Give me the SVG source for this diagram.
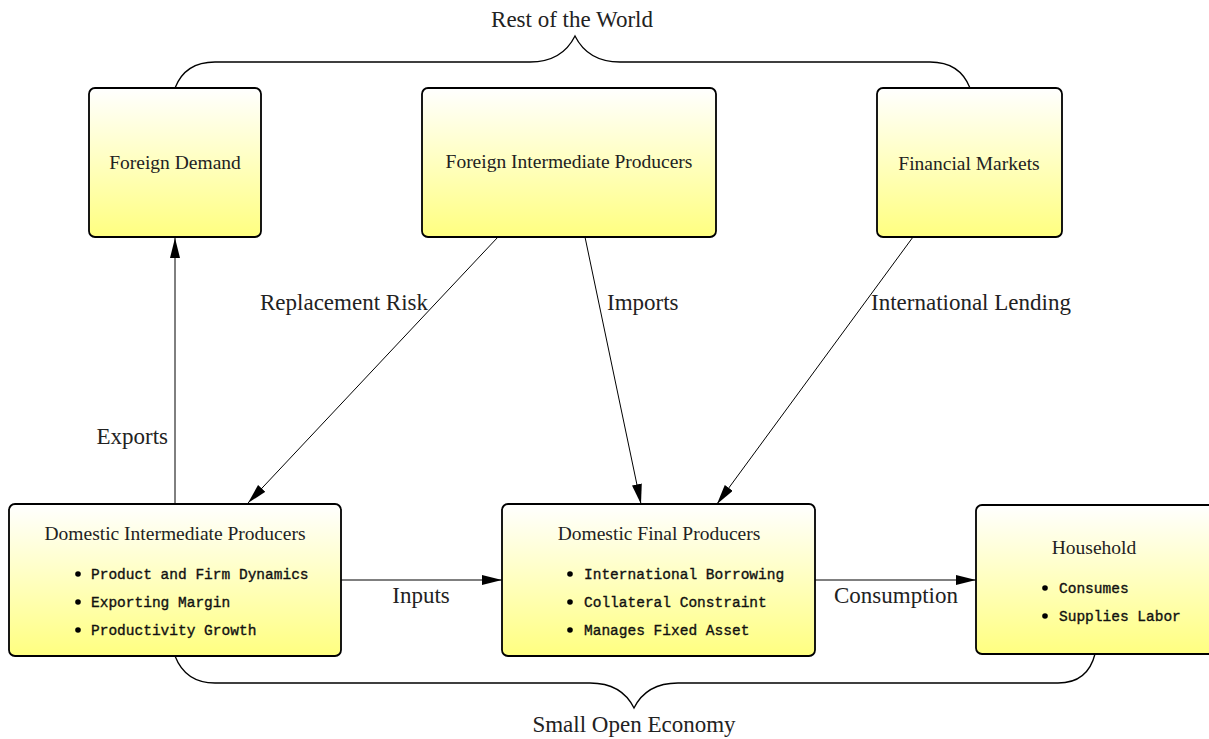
<svg xmlns="http://www.w3.org/2000/svg" width="1209" height="739" viewBox="0 0 1209 739">
<style>
.box{fill:url(#yg);stroke:#000;stroke-width:1.8}
.title{font-family:"Liberation Serif","Times New Roman",serif;font-size:19.5px;fill:#222;text-anchor:middle}
.lbl{font-family:"Liberation Serif","Times New Roman",serif;font-size:23px;fill:#222}
.item{font-family:"Liberation Mono","Courier New",monospace;font-size:14.5px;fill:#111;stroke:#111;stroke-width:0.35}
.conn{stroke:#000;stroke-width:1;fill:none;marker-end:url(#ah)}
.brace{stroke:#000;stroke-width:1.3;fill:none}
.dot{fill:#000}
</style>
<defs>
<linearGradient id="yg" x1="0" y1="0" x2="0" y2="1">
<stop offset="0" stop-color="#ffffff"/>
<stop offset="1" stop-color="#ffff80"/>
</linearGradient>
<marker id="ah" markerUnits="userSpaceOnUse" markerWidth="22" markerHeight="12" refX="20" refY="5" orient="auto">
<path d="M0,0 L20,5 L0,10 Z" fill="#000"/>
</marker>
</defs>

<g id="braces">
<path class="brace" d="M175,88 C182,70 195,62 215,62 L530,62 C555,62 568,50 575,36 C582,50 595,62 620,62 L930,62 C950,62 963,70 970,88"/>
<path class="brace" d="M175,656 C182,674 195,683 215,683 L590,683 C615,683 627,694 634,708 C641,694 653,683 678,683 L1058,683 C1078,683 1090,674 1095,654"/>
<text class="lbl" x="572" y="27" text-anchor="middle">Rest of the World</text>
<text class="lbl" x="634" y="732" text-anchor="middle">Small Open Economy</text>
</g>

<g id="connectors">
<line class="conn" x1="175" y1="504" x2="175" y2="238"/>
<line class="conn" x1="498" y1="237" x2="248" y2="503"/>
<line class="conn" x1="585" y1="237" x2="641" y2="504"/>
<line class="conn" x1="913" y1="237" x2="717" y2="504"/>
<line class="conn" x1="341" y1="580" x2="502" y2="580"/>
<line class="conn" x1="815" y1="580" x2="976" y2="580"/>
<text class="lbl" x="168" y="444" text-anchor="end">Exports</text>
<text class="lbl" x="428" y="310" text-anchor="end">Replacement Risk</text>
<text class="lbl" x="607" y="310">Imports</text>
<text class="lbl" x="871" y="310">International Lending</text>
<text class="lbl" x="421" y="603" text-anchor="middle">Inputs</text>
<text class="lbl" x="896" y="603" text-anchor="middle">Consumption</text>
</g>

<g id="foreign-demand">
<rect class="box" x="89" y="88" width="172" height="149" rx="6"/>
<text class="title" x="175" y="169">Foreign Demand</text>
</g>

<g id="foreign-intermediate-producers">
<rect class="box" x="422" y="88" width="294" height="149" rx="6"/>
<text class="title" x="569" y="168">Foreign Intermediate Producers</text>
</g>

<g id="financial-markets">
<rect class="box" x="877" y="88" width="185" height="149" rx="6"/>
<text class="title" x="969" y="170">Financial Markets</text>
</g>

<g id="domestic-intermediate-producers">
<rect class="box" x="9" y="504" width="332" height="152" rx="6"/>
<text class="title" x="175" y="540">Domestic Intermediate Producers</text>
<circle class="dot" cx="78" cy="574" r="2.8"/>
<circle class="dot" cx="78" cy="602" r="2.8"/>
<circle class="dot" cx="78" cy="630" r="2.8"/>
<text class="item" x="91" y="579">Product and Firm Dynamics</text>
<text class="item" x="91" y="607">Exporting Margin</text>
<text class="item" x="91" y="635">Productivity Growth</text>
</g>

<g id="domestic-final-producers">
<rect class="box" x="502" y="504" width="313" height="152" rx="6"/>
<text class="title" x="659" y="540">Domestic Final Producers</text>
<circle class="dot" cx="570" cy="574" r="2.8"/>
<circle class="dot" cx="570" cy="602" r="2.8"/>
<circle class="dot" cx="570" cy="630" r="2.8"/>
<text class="item" x="584" y="579">International Borrowing</text>
<text class="item" x="584" y="607">Collateral Constraint</text>
<text class="item" x="584" y="635">Manages Fixed Asset</text>
</g>

<g id="household">
<rect class="box" x="976" y="505" width="240" height="149" rx="6"/>
<text class="title" x="1094" y="554">Household</text>
<circle class="dot" cx="1045" cy="588" r="2.8"/>
<circle class="dot" cx="1045" cy="616" r="2.8"/>
<text class="item" x="1059" y="593">Consumes</text>
<text class="item" x="1059" y="621">Supplies Labor</text>
</g>
</svg>
